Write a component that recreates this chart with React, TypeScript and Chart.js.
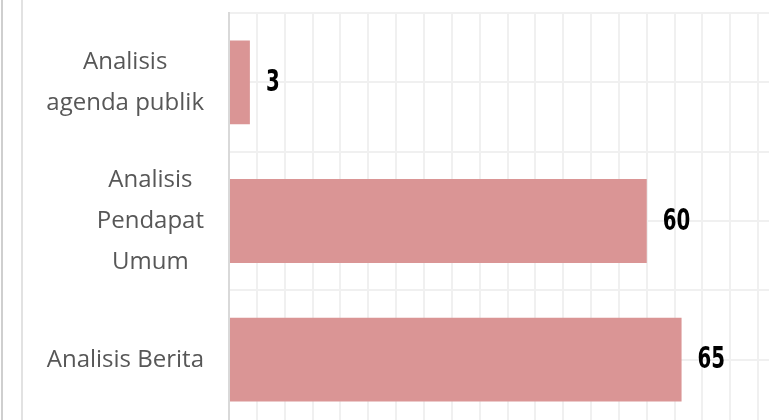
import React, { useEffect, useRef } from "react";
import { Chart, registerables } from "chart.js";

Chart.register(...registerables);

// Category labels (each entry = lines of a multi-line label)
const categories: string[][] = [
  ["Analisis", "agenda publik"],
  ["Analisis", "Pendapat", "Umum"],
  ["Analisis Berita"],
];
const values: number[] = [3, 60, 65];
const gridRows: string[] = ["", "", "", "", "", ""];
const xMin = 0;
const xMax = 80;
const xStep = 4;

const CANVAS_W = 800;
const CANVAS_H = 440;

export default function App() {
  const ref = useRef<HTMLCanvasElement>(null);

  useEffect(() => {
    const canvas = ref.current;
    if (!canvas) return;

    const categoryLabelPlugin = {
      id: "categoryLabels",
      afterDraw(chart: any) {
        const ctx = chart.ctx as CanvasRenderingContext2D;
        const yScale = chart.scales.y;
        const left = chart.chartArea.left;
        ctx.save();
        ctx.font = '24px "Open Sans", sans-serif';
        ctx.fillStyle = "#575757";
        ctx.textAlign = "center";
        ctx.textBaseline = "middle";
        const lh = 41;
        categories.forEach((lines, i) => {
          const widest = Math.max(...lines.map((l) => ctx.measureText(l).width));
          const cx = left - 25 - widest / 2;
          const cy = yScale.getPixelForValue(i);
          lines.forEach((l, j) => {
            ctx.fillText(l, cx, cy + (j - (lines.length - 1) / 2) * lh);
          });
        });
        ctx.restore();
      },
    };

    const valueLabelPlugin = {
      id: "valueLabels",
      afterDatasetsDraw(chart: any) {
        const ctx = chart.ctx as CanvasRenderingContext2D;
        const meta = chart.getDatasetMeta(0);
        meta.data.forEach((bar: any, i: number) => {
          ctx.save();
          ctx.font = 'bold 30px "DejaVu Sans", sans-serif';
          ctx.fillStyle = "#000000";
          ctx.textAlign = "left";
          ctx.textBaseline = "middle";
          ctx.translate(bar.x + 16, bar.y + 1);
          ctx.scale(0.66, 1);
          ctx.fillText(String(values[i]), 0, 0);
          ctx.restore();
        });
      },
    };

    const chart = new Chart(canvas, {
      type: "bar",
      data: {
        labels: categories.map((c) => c.join(" ")),
        datasets: [
          {
            data: values,
            backgroundColor: "rgb(218,149,149)",
            borderWidth: 0,
            categoryPercentage: 1,
            barPercentage: 0.605,
          },
        ],
      },
      options: {
        indexAxis: "y",
        responsive: false,
        animation: false,
        layout: { padding: { top: 13, bottom: 11, left: 0, right: 14 } },
        plugins: {
          legend: { display: false },
          tooltip: { enabled: false },
        },
        scales: {
          x: {
            type: "linear",
            min: xMin,
            max: xMax,
            ticks: { display: false, stepSize: xStep, maxTicksLimit: 100 },
            grid: { color: "#f0f0f0", lineWidth: 2, drawTicks: false },
            border: { display: false },
          },
          y: {
            type: "category",
            ticks: { display: false },
            grid: { display: false, drawTicks: false },
            border: { display: true, color: "#d9d9d9", width: 2 },
            afterFit: (s: any) => {
              s.width = 229;
            },
          },
          y2: {
            type: "category",
            labels: gridRows,
            position: "right",
            offset: true,
            ticks: { display: false },
            grid: { offset: true, color: "#f0f0f0", lineWidth: 2, drawTicks: false },
            border: { display: false },
            afterFit: (s: any) => {
              s.width = 0;
            },
          },
        },
      } as any,
      plugins: [valueLabelPlugin, categoryLabelPlugin],
    });

    return () => chart.destroy();
  }, []);

  return (
    <div
      style={{
        position: "fixed",
        left: 0,
        top: 0,
        width: 769,
        height: 420,
        overflow: "hidden",
        background: "#ffffff",
      }}
    >
      <canvas
        ref={ref}
        width={CANVAS_W}
        height={CANVAS_H}
        style={{ position: "absolute", left: 0, top: 0, width: CANVAS_W, height: CANVAS_H }}
      />
      <div style={{ position: "absolute", left: 1, top: 0, width: 2, height: 420, background: "#cfcfcf" }} />
      <div style={{ position: "absolute", left: 21, top: 0, width: 2, height: 420, background: "#e2e2e2" }} />
    </div>
  );
}
